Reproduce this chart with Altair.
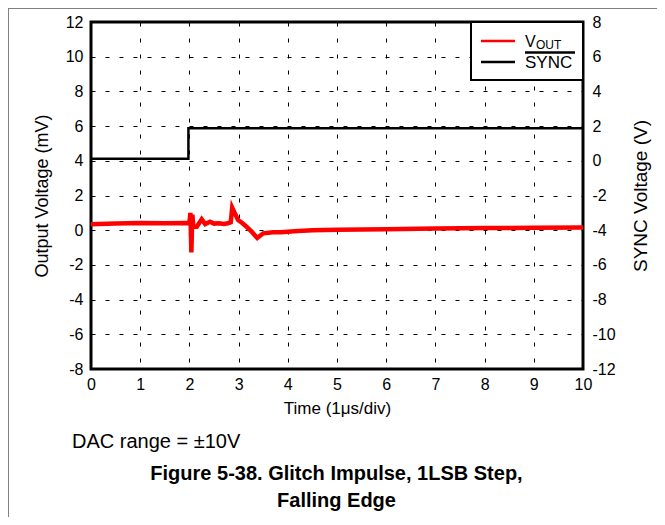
import altair as alt
import pandas as pd

# ---- data ----
vout_t = [0.0, 0.5, 1.0, 1.5, 1.95, 2.0, 2.02, 2.04, 2.06, 2.08, 2.15, 2.25, 2.32, 2.42, 2.5,
          2.6, 2.7, 2.78, 2.84, 2.87, 2.92, 2.99, 3.08, 3.16, 3.27, 3.38, 3.5, 3.7, 3.86, 4.13,
          4.5, 5.0, 6.0, 7.0, 8.0, 9.0, 10.0]
vout_mv = [0.35, 0.38, 0.42, 0.40, 0.42, 0.40, 1.00, -1.28, 0.90, 0.20, 0.20, 0.63, 0.35, 0.49, 0.38,
           0.40, 0.36, 0.40, 0.45, 1.30, 1.00, 0.59, 0.40, 0.20, -0.10, -0.45, -0.18, -0.12, -0.12, -0.06,
           0.0, 0.03, 0.06, 0.10, 0.12, 0.14, 0.16]
sync_t = [0.0, 1.98, 1.98, 10.0]
sync_v = [0.12, 0.12, 1.87, 1.87]

x_ticks = list(range(0, 11))
left_ticks = list(range(-8, 13, 2))
right_ticks = list(range(-12, 9, 2))

vout_df = pd.DataFrame({"t": vout_t, "v": vout_mv, "i": range(len(vout_t))})
sync_df = pd.DataFrame({"t": sync_t, "v": sync_v, "i": range(len(sync_t))})
one = pd.DataFrame({"a": [0]})

W, H = 492, 347
FONT = "Liberation Sans"
PLAIN = "'' + datum.value"

x_enc = alt.X(
    "t:Q",
    scale=alt.Scale(domain=[0, 10], nice=False),
    axis=alt.Axis(
        values=x_ticks, grid=True, gridDash=[4, 12], gridColor="black", gridWidth=1,
        gridOpacity=1, domain=False, ticks=False, labelFontSize=16, labelPadding=7,
        labelFlush=False, labelOverlap=False, labelColor="black", labelExpr=PLAIN,
        title="Time (1μs/div)", titleFontSize=17, titleFontWeight="normal",
        titleColor="black", titleY=44, titleX=W / 2, titleBaseline="alphabetic",
    ),
)

red = alt.Chart(vout_df).mark_line(color="#ff0000", strokeWidth=4.5).encode(
    x=x_enc,
    y=alt.Y(
        "v:Q",
        scale=alt.Scale(domain=[-8, 12], nice=False),
        axis=alt.Axis(
            values=left_ticks, grid=True, gridDash=[4, 10], gridColor="black", gridWidth=1,
            gridOpacity=1, domain=False, ticks=False, labelFontSize=16, labelPadding=8,
            labelOverlap=False, labelColor="black", orient="left", labelExpr=PLAIN,
            title="Output Voltage (mV)", titleFontSize=18, titleFontWeight="normal",
            titleColor="black", titleAngle=270, titleX=-49, titleY=H / 2,
            titleAlign="center", titleBaseline="middle",
        ),
    ),
    order="i:Q",
)

black = alt.Chart(sync_df).mark_line(color="black", strokeWidth=2.5).encode(
    x=alt.X("t:Q", scale=alt.Scale(domain=[0, 10], nice=False)),
    y=alt.Y(
        "v:Q",
        scale=alt.Scale(domain=[-12, 8], nice=False),
        axis=alt.Axis(
            values=right_ticks, grid=False, domain=False, ticks=False, labelFontSize=16,
            labelPadding=9, labelOverlap=False, labelColor="black", orient="right",
            labelExpr=PLAIN,
            title="SYNC Voltage (V)", titleFontSize=19, titleFontWeight="normal",
            titleColor="black", titleAngle=270, titleX=57, titleY=H / 2,
            titleAlign="center", titleBaseline="middle",
        ),
    ),
    order="i:Q",
)

# ---- legend box (drawn by hand to keep subscript / overline) ----
leg_box = alt.Chart(one).mark_rect(fill="white", stroke="black", strokeWidth=2).encode(
    x=alt.value(380), x2=alt.value(W), y=alt.value(0), y2=alt.value(58)
)
leg_red = alt.Chart(one).mark_rule(color="#ff0000", strokeWidth=2.5).encode(
    x=alt.value(390), x2=alt.value(424), y=alt.value(19)
)
leg_blk = alt.Chart(one).mark_rule(color="black", strokeWidth=2.5).encode(
    x=alt.value(390), x2=alt.value(424), y=alt.value(40)
)
leg_bar = alt.Chart(one).mark_rule(color="black", strokeWidth=2.5).encode(
    x=alt.value(434), x2=alt.value(484), y=alt.value(30.5)
)
leg_v = alt.Chart(one).mark_text(text="V", fontSize=16, align="left", baseline="alphabetic",
                                 font=FONT, color="black").encode(x=alt.value(434), y=alt.value(25))
leg_out = alt.Chart(one).mark_text(text="OUT", fontSize=12, align="left", baseline="alphabetic",
                                   font=FONT, color="black").encode(x=alt.value(445), y=alt.value(27))
leg_sync = alt.Chart(one).mark_text(text="SYNC", fontSize=17, align="left", baseline="alphabetic",
                                    font=FONT, color="black").encode(x=alt.value(434), y=alt.value(46))

# ---- notes and caption below the plot ----
dac = alt.Chart(one).mark_text(text="DAC range = ±10V", fontSize=20, align="left",
                               baseline="alphabetic", font=FONT, color="black").encode(
    x=alt.value(-19), y=alt.value(426))
cap1 = alt.Chart(one).mark_text(text="Figure 5-38. Glitch Impulse, 1LSB Step,", fontSize=20,
                                fontWeight="bold", align="center", baseline="alphabetic",
                                font=FONT, color="black").encode(x=alt.value(245.5), y=alt.value(458))
cap2 = alt.Chart(one).mark_text(text="Falling Edge", fontSize=20, fontWeight="bold",
                                align="center", baseline="alphabetic", font=FONT,
                                color="black").encode(x=alt.value(245.5), y=alt.value(485))

# ---- page frame lines ----
frame_left = alt.Chart(one).mark_rule(color="#808080", strokeWidth=1).encode(
    x=alt.value(-82.5), y=alt.value(-14), y2=alt.value(495))
frame_top = alt.Chart(one).mark_rule(color="#808080", strokeWidth=1).encode(
    x=alt.value(-83), x2=alt.value(566), y=alt.value(-13.5))

chart = (
    alt.layer(red, black, leg_box, leg_red, leg_blk, leg_bar, leg_v, leg_out, leg_sync,
              dac, cap1, cap2, frame_left, frame_top)
    .resolve_scale(y="independent")
    .properties(
        width=W, height=H,
        autosize=alt.AutoSizeParams(type="none"),
        padding={"left": 83, "top": 14, "right": 74, "bottom": 148},
        background="white",
    )
    .configure(font=FONT)
    .configure_view(stroke="black", strokeWidth=3)
)

chart.save("out.html", embed_options={"renderer": "svg", "actions": False})
